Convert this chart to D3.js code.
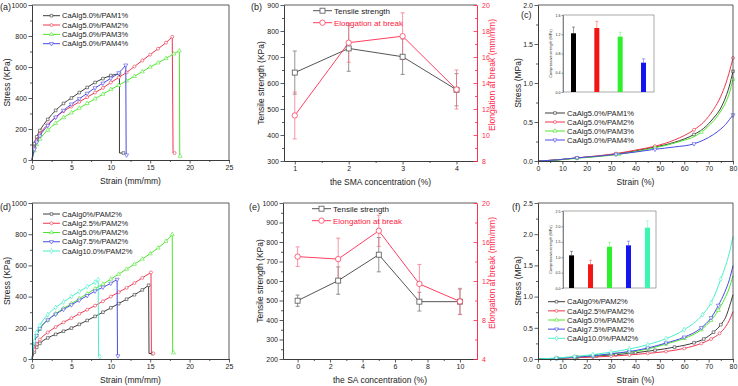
<!DOCTYPE html>
<html>
<head>
<meta charset="utf-8">
<script src="https://cdn.jsdelivr.net/npm/d3@7"></script>
<style>
  body { margin: 0; background: #fff; }
  svg text { font-family: "Liberation Sans", Arial, sans-serif; fill: #222; }
  .axis path, .axis line { stroke: #333; stroke-width: 0.8; }
  .axis text { font-size: 7px; fill: #222; }
  .inset .axis text { font-size: 3.6px; }
  .inset .axis path, .inset .axis line { stroke-width: 0.5; }
</style>
</head>
<body>
<div id="chart"></div>
<script>
// ---------- data ----------
// (a) stress-strain, CaAlg5.0% with PAM 1..4%
var namesA = ["CaAlg5.0%/PAM1%", "CaAlg5.0%/PAM2%", "CaAlg5.0%/PAM3%", "CaAlg5.0%/PAM4%"];
var aPAM1 = [[0,0],[0.3,105],[0.6,150],[1,190],[2,262],[3,320],[4,365],[5,400],[6,435],[7,468],[8,500],[9,525],[10,545],[11.1,556]];
var aPAM2 = [[0,0],[0.3,80],[0.6,125],[1,165],[2,230],[3,275],[4,315],[5,345],[6,375],[7,405],[8,435],[9,465],[10,500],[11,532],[12,565],[13,603],[14,642],[15,680],[16,718],[17,757],[17.8,795]];
var aPAM3 = [[0,0],[0.3,60],[0.6,100],[1,135],[2,192],[3,237],[4,274],[5,305],[6,335],[7,365],[8,395],[9,425],[10,455],[11,482],[12,511],[13,540],[14,570],[15,600],[16,627],[17,655],[18,685],[18.7,705]];
var aPAM4 = [[0,0],[0.3,70],[0.6,115],[1,155],[2,222],[3,276],[4,320],[5,360],[6,395],[7,430],[8,465],[9,495],[10,527],[11,562],[11.9,612]];
var aBreaks = [[[11.1,45],[11.6,45]], [[17.9,45],[18.1,45]], [[18.75,25],[18.8,25]], [[11.95,32],[12,32]]];

// (b) effect of SMA (PAM) concentration
var bConc = [1, 2, 3, 4];
var bTensile = [640, 733, 701, 574];
var bTensileErr = [83, 88, 68, 62];
var bElong = [11.5, 17.1, 17.6, 13.5];
var bElongErr = [1.8, 1.5, 1.8, 1.5];

// (c) compressive stress-strain, same samples as (a)
var cPAM1 = [[0,0],[8,0.015],[16,0.04],[24,0.06],[32,0.09],[40,0.13],[48,0.18],[56,0.24],[64,0.34],[68,0.42],[72,0.55],[75,0.68],[77,0.82],[78.5,0.96],[80,1.15]];
var cPAM2 = [[0,0],[8,0.015],[16,0.04],[24,0.065],[32,0.095],[40,0.14],[48,0.19],[56,0.27],[64,0.40],[68,0.5],[72,0.66],[75,0.83],[77,0.99],[78.5,1.14],[80,1.32]];
var cPAM3 = [[0,0],[8,0.012],[16,0.035],[24,0.055],[33,0.085],[40,0.12],[48,0.17],[56,0.23],[67,0.37],[70,0.45],[73,0.55],[75,0.64],[77,0.75],[78.5,0.87],[80,1.05]];
var cPAM4 = [[0,0],[8,0.015],[16,0.04],[24,0.06],[32,0.085],[40,0.115],[48,0.15],[56,0.18],[64,0.22],[68,0.27],[72,0.34],[75,0.41],[77,0.47],[78.5,0.53],[80,0.59]];
var cBar = [1.22, 1.33, 1.15, 0.61];
var cBarErr = [0.13, 0.14, 0.09, 0.08];

// (d) stress-strain, CaAlg 0..10% with PAM2%
var namesD = ["CaAlg0%/PAM2%", "CaAlg2.5%/PAM2%", "CaAlg5.0%/PAM2%", "CaAlg7.5%/PAM2%", "CaAlg10.0%/PAM2%"];
var d0 = [[0,0],[0.3,45],[0.6,75],[1,100],[2,135],[3,158],[4,178],[5,198],[6,222],[7,247],[8,273],[9,300],[10,328],[11,355],[12,383],[13,412],[14,443],[14.8,473]];
var d25 = [[0,0],[0.3,60],[0.6,95],[1,125],[2,170],[3,205],[4,235],[5,262],[6,290],[7,316],[8,342],[9,370],[10,400],[11,428],[12,456],[13,487],[14,520],[15.1,555]];
var d50 = [[0,0],[0.3,100],[0.6,150],[1,190],[2,250],[3,290],[4,325],[5,355],[6,387],[7,418],[8,450],[9,480],[10,512],[11,544],[12,576],[13,608],[14,641],[15,675],[16,712],[17,755],[17.8,798]];
var d75 = [[0,0],[0.3,100],[0.6,150],[1,195],[2,250],[3,287],[4,318],[5,347],[6,377],[7,406],[8,435],[9,460],[10,485],[10.8,510]];
var d100 = [[0,0],[0.3,115],[0.6,170],[1,215],[2,285],[3,330],[4,366],[5,400],[6,432],[7,463],[8,493],[8.4,508]];
var dBreaks = [[[14.85,35],[15.3,35]], [[15.15,35],[15.4,35]], [[17.85,40],[17.95,40]], [[10.85,20],[10.9,20]], [[8.45,15],[8.6,15]]];

// (e) effect of SA concentration
var eConc = [0, 2.5, 5, 7.5, 10];
var eTensile = [499, 602, 735, 494, 494];
var eTensileErr = [29, 70, 88, 48, 65];
var eElong = [14.5, 14.25, 17.15, 11.7, 9.9];
var eElongErr = [1.0, 2.15, 1.6, 2.0, 1.35];

// (f) compressive stress-strain, same samples as (d)
var f0 = [[0,0],[8,0.01],[16,0.03],[24,0.05],[32,0.07],[40,0.1],[48,0.14],[56,0.19],[64,0.26],[68,0.32],[72,0.43],[75,0.55],[77,0.67],[79,0.9],[80,1.03]];
var f25 = [[0,0],[7.5,0.008],[15,0.02],[22.5,0.03],[30,0.045],[37.5,0.065],[45,0.09],[52.5,0.12],[60,0.17],[67,0.25],[71,0.32],[74.5,0.41],[77,0.52],[78.5,0.62],[80,0.76]];
var f50 = [[0,0],[7.5,0.01],[15,0.03],[22.5,0.05],[30,0.08],[37.5,0.11],[45,0.16],[52.5,0.24],[60,0.33],[67,0.47],[71,0.62],[74,0.78],[76.5,0.96],[78.5,1.14],[80,1.335]];
var f75 = [[0,0],[7.5,0.01],[15,0.03],[22.5,0.05],[30,0.085],[37.5,0.12],[45,0.176],[52.5,0.256],[60,0.35],[67,0.5],[71,0.66],[74,0.86],[76.5,1.06],[78.5,1.27],[80,1.495]];
var f100 = [[0,0],[7.5,0.015],[15,0.04],[22.5,0.07],[30,0.11],[37.5,0.16],[45,0.23],[52.5,0.325],[60,0.47],[67.5,0.71],[71,0.9],[75,1.28],[77,1.5],[78.5,1.7],[80,1.96]];
var fBar = [1.06, 0.77, 1.34, 1.385, 1.96];
var fBarErr = [0.13, 0.13, 0.14, 0.135, 0.22];

// ---------- styles ----------
var lineColors = ["#3c3c3c", "#f0364f", "#4ee62b", "#4a4ae6", "#46f0c9"];
var barColors = ["#000000", "#f51414", "#2cf02c", "#1414f0", "#3cf5b0"];
var shapes = [d3.symbolSquare, d3.symbolCircle, d3.symbolTriangle, d3.symbolTriangle, d3.symbolDiamond];
var shapeRot = [0, 0, 0, 180, 0];
var redAxis = "#ff2a4a";

var svg = d3.select("#chart").append("svg")
  .attr("width", 738).attr("height", 386)
  .style("background", "#fff");

function drawAxes(g, x, y, o) {
  var xr = x.range(), yr = y.range();
  var bottom = yr[0], top = yr[1], left = xr[0], right = xr[1];
  g.append("g").attr("class", "axis").attr("transform", "translate(0," + bottom + ")")
    .call(d3.axisBottom(x).tickValues(o.xMinor).tickSize(2).tickSizeOuter(0).tickFormat(""));
  g.append("g").attr("class", "axis").attr("transform", "translate(0," + bottom + ")")
    .call(d3.axisBottom(x).tickValues(o.xTicks).tickSize(3.5).tickSizeOuter(0).tickPadding(2).tickFormat(o.xFmt || d3.format("")));
  g.append("g").attr("class", "axis").attr("transform", "translate(" + left + ",0)")
    .call(d3.axisLeft(y).tickValues(o.yMinor).tickSize(2).tickSizeOuter(0).tickFormat(""));
  g.append("g").attr("class", "axis").attr("transform", "translate(" + left + ",0)")
    .call(d3.axisLeft(y).tickValues(o.yTicks).tickSize(3.5).tickSizeOuter(0).tickPadding(1.5).tickFormat(o.yFmt || d3.format("")));
  g.append("path")
    .attr("d", "M" + left + "," + top + "H" + right + (o.noRight ? "" : "V" + bottom))
    .attr("fill", "none").attr("stroke", "#333").attr("stroke-width", 0.8);
  if (o.xTitle) {
    g.append("text").attr("x", (left + right) / 2).attr("y", bottom + 24)
      .attr("text-anchor", "middle").style("font-size", "8.5px").text(o.xTitle);
  }
  if (o.yTitle) {
    g.append("text").attr("transform", "translate(" + (left - o.yTitleOff) + "," + (top + bottom) / 2 + ") rotate(-90)")
      .attr("text-anchor", "middle").attr("dy", "0.35em").style("font-size", "8.5px").text(o.yTitle);
  }
}

function symbolPath(i, size) {
  return d3.symbol().type(shapes[i]).size(size)();
}

function drawMarkers(g, pts, x, y, i, size) {
  g.selectAll(null).data(pts).enter().append("path")
    .attr("d", symbolPath(i, size))
    .attr("transform", function(d) { return "translate(" + x(d[0]) + "," + y(d[1]) + ") rotate(" + shapeRot[i] + ")"; })
    .attr("fill", "#fff").attr("stroke", lineColors[i]).attr("stroke-width", 0.6);
}

function drawCurves(g, x, y, series, breaks, markFilter, msize) {
  var smooth = d3.line().x(function(d) { return x(d[0]); }).y(function(d) { return y(d[1]); }).curve(d3.curveMonotoneX);
  var straight = d3.line().x(function(d) { return x(d[0]); }).y(function(d) { return y(d[1]); });
  series.forEach(function(s, i) {
    g.append("path").datum(s).attr("d", smooth)
      .attr("fill", "none").attr("stroke", lineColors[i]).attr("stroke-width", 1);
    var pts = s.filter(markFilter);
    if (breaks) {
      g.append("path").datum([s[s.length - 1]].concat(breaks[i])).attr("d", straight)
        .attr("fill", "none").attr("stroke", lineColors[i]).attr("stroke-width", 1);
      pts = pts.concat([breaks[i][breaks[i].length - 1]]);
    }
    drawMarkers(g, pts, x, y, i, msize);
  });
}

function drawLegend(g, names, x0, y0, step, len, fs, msize) {
  names.forEach(function(n, i) {
    var yy = y0 + i * step;
    g.append("line").attr("x1", x0).attr("x2", x0 + len).attr("y1", yy).attr("y2", yy)
      .attr("stroke", lineColors[i]).attr("stroke-width", 1);
    g.append("path").attr("d", symbolPath(i, msize))
      .attr("transform", "translate(" + (x0 + len / 2) + "," + yy + ") rotate(" + shapeRot[i] + ")")
      .attr("fill", "#fff").attr("stroke", lineColors[i]).attr("stroke-width", 0.6);
    g.append("text").attr("x", x0 + len + 2).attr("y", yy).attr("dy", "0.35em")
      .style("font-size", fs + "px").text(n);
  });
}

function panelLabel(t, x, y) {
  svg.append("text").attr("x", x).attr("y", y).style("font-size", "9px").text(t);
}

// ---------- (a) ----------
(function() {
  var g = svg.append("g");
  var x = d3.scaleLinear().domain([0, 25]).range([32, 229]);
  var y = d3.scaleLinear().domain([0, 1000]).range([160, 5]);
  drawCurves(g, x, y, [aPAM1, aPAM2, aPAM3, aPAM4], aBreaks, function(d) { return d[0] > 0; }, 7);
  drawAxes(g, x, y, {
    xTicks: d3.range(0, 26, 5), xMinor: d3.range(2.5, 25, 5),
    yTicks: d3.range(0, 1001, 200), yMinor: d3.range(100, 1000, 200),
    xTitle: "Strain (mm/mm)", yTitle: "Stress (KPa)", yTitleOff: 25
  });
  drawLegend(g, namesA, 43, 15.7, 9.33, 17, 7.5, 7);
  panelLabel("(a)", 0, 10);
})();

// ---------- (d) ----------
(function() {
  var g = svg.append("g");
  var x = d3.scaleLinear().domain([0, 25]).range([32, 229]);
  var y = d3.scaleLinear().domain([0, 1000]).range([359, 203]);
  drawCurves(g, x, y, [d0, d25, d50, d75, d100], dBreaks, function(d) { return d[0] > 0; }, 7);
  drawAxes(g, x, y, {
    xTicks: d3.range(0, 26, 5), xMinor: d3.range(2.5, 25, 5),
    yTicks: d3.range(0, 1001, 200), yMinor: d3.range(100, 1000, 200),
    xTitle: "Strain (mm/mm)", yTitle: "Stress (KPa)", yTitleOff: 25
  });
  drawLegend(g, namesD, 43, 214, 9.25, 17, 7.5, 7);
  panelLabel("(d)", 0, 210);
})();

// ---------- (b) / (e) dual axis ----------
function dualPanel(o) {
  var g = svg.append("g");
  var x = d3.scaleLinear().domain(o.xDom).range([o.left, o.right]);
  var yL = d3.scaleLinear().domain(o.yLDom).range([o.bottom, o.top]);
  var yR = d3.scaleLinear().domain(o.yRDom).range([o.bottom, o.top]);
  var lineL = d3.line().x(function(d, i) { return x(o.conc[i]); }).y(function(d) { return yL(d); });
  var lineR = d3.line().x(function(d, i) { return x(o.conc[i]); }).y(function(d) { return yR(d); });

  drawAxes(g, x, yL, {
    xTicks: o.xTicks, xMinor: o.xMinor, yTicks: o.yLTicks, yMinor: o.yLMinor,
    xTitle: o.xTitle, yTitle: "Tensile strength (KPa)", yTitleOff: 23, noRight: true
  });
  // right red axis
  var ra = g.append("g").attr("class", "axis").attr("transform", "translate(" + o.right + ",0)");
  ra.call(d3.axisRight(yR).tickValues(o.yRMinor).tickSize(-2).tickSizeOuter(0).tickFormat(""));
  var rb = g.append("g").attr("class", "axis").attr("transform", "translate(" + o.right + ",0)");
  rb.call(d3.axisRight(yR).tickValues(o.yRTicks).tickSize(-3.5).tickSizeOuter(0).tickPadding(5).tickFormat(d3.format("")));
  ra.selectAll("path, line").style("stroke", redAxis);
  rb.selectAll("path, line").style("stroke", redAxis);
  rb.selectAll("text").style("fill", redAxis);
  g.append("text")
    .attr("transform", "translate(" + (o.right + 15) + "," + ((o.top + o.bottom) / 2 - 8) + ") rotate(-90)")
    .attr("text-anchor", "middle").attr("dy", "0.35em")
    .style("font-size", "8.5px").style("fill", redAxis).text("Elongation at break (mm/mm)");

  // error bars
  function errBars(vals, errs, sc, color) {
    vals.forEach(function(v, i) {
      var cx = x(o.conc[i]);
      g.append("path")
        .attr("d", "M" + cx + "," + sc(v - errs[i]) + "V" + sc(v + errs[i]) +
          "M" + (cx - 2) + "," + sc(v - errs[i]) + "H" + (cx + 2) +
          "M" + (cx - 2) + "," + sc(v + errs[i]) + "H" + (cx + 2))
        .attr("stroke", color).attr("stroke-width", 0.8).attr("fill", "none");
    });
  }
  errBars(o.tens, o.tensErr, yL, "#777");
  errBars(o.elong, o.elongErr, yR, "#f57a8e");

  g.append("path").datum(o.tens).attr("d", lineL).attr("fill", "none").attr("stroke", "#555").attr("stroke-width", 1);
  g.append("path").datum(o.elong).attr("d", lineR).attr("fill", "none").attr("stroke", "#ff4060").attr("stroke-width", 1);
  g.selectAll(null).data(o.tens).enter().append("rect")
    .attr("x", function(d, i) { return x(o.conc[i]) - 2.5; })
    .attr("y", function(d) { return yL(d) - 2.5; })
    .attr("width", 5).attr("height", 5)
    .attr("fill", "#fff").attr("stroke", "#555").attr("stroke-width", 0.8);
  g.selectAll(null).data(o.elong).enter().append("circle")
    .attr("cx", function(d, i) { return x(o.conc[i]); })
    .attr("cy", function(d) { return yR(d); })
    .attr("r", 2.7)
    .attr("fill", "#fff").attr("stroke", "#ff4060").attr("stroke-width", 0.8);

  // legend
  var ly = o.top + 5.7;
  [["Tensile strength", "#555", "rect"], ["Elongation at break", "#ff4060", "circle"]].forEach(function(e, i) {
    var yy = ly + i * 12;
    g.append("line").attr("x1", o.left + 29).attr("x2", o.left + 48).attr("y1", yy).attr("y2", yy)
      .attr("stroke", e[1]).attr("stroke-width", 1);
    if (e[2] === "rect") {
      g.append("rect").attr("x", o.left + 36).attr("y", yy - 2.5).attr("width", 5).attr("height", 5)
        .attr("fill", "#fff").attr("stroke", e[1]).attr("stroke-width", 0.8);
    } else {
      g.append("circle").attr("cx", o.left + 38.5).attr("cy", yy).attr("r", 2.7)
        .attr("fill", "#fff").attr("stroke", e[1]).attr("stroke-width", 0.8);
    }
    g.append("text").attr("x", o.left + 50).attr("y", yy).attr("dy", "0.35em")
      .style("font-size", "8px").style("fill", i ? "#ff2040" : "#222").text(e[0]);
  });
}

dualPanel({
  left: 284, right: 477, top: 5, bottom: 161,
  xDom: [0.8, 4.38], xTicks: bConc, xMinor: [1.5, 2.5, 3.5],
  yLDom: [300, 900], yLTicks: d3.range(300, 901, 100), yLMinor: d3.range(350, 900, 100),
  yRDom: [8, 20], yRTicks: d3.range(8, 21, 2), yRMinor: d3.range(9, 20, 2),
  conc: bConc, tens: bTensile, tensErr: bTensileErr, elong: bElong, elongErr: bElongErr,
  xTitle: "the SMA concentration (%)"
});
panelLabel("(b)", 251, 10);

dualPanel({
  left: 283, right: 477, top: 203, bottom: 359,
  xDom: [-0.9, 11.05], xTicks: d3.range(0, 11, 2), xMinor: d3.range(1, 11, 2),
  yLDom: [200, 1000], yLTicks: d3.range(200, 1001, 100), yLMinor: d3.range(250, 1000, 100),
  yRDom: [4, 20], yRTicks: d3.range(4, 21, 4), yRMinor: d3.range(6, 20, 4),
  conc: eConc, tens: eTensile, tensErr: eTensileErr, elong: eElong, elongErr: eElongErr,
  xTitle: "the SA concentration (%)"
});
panelLabel("(e)", 249, 210);

// ---------- (c) / (f) compression with inset ----------
function compPanel(o) {
  var g = svg.append("g");
  var x = d3.scaleLinear().domain([0, 80]).range([538, 733]);
  var y = d3.scaleLinear().domain([0, o.yMax]).range([o.bottom, o.top]);
  drawCurves(g, x, y, o.series, null, o.markFilter, 7);
  drawAxes(g, x, y, {
    xTicks: d3.range(0, 81, 10), xMinor: d3.range(5, 80, 10),
    yTicks: d3.range(0, o.yMax + 0.01, 0.5), yMinor: d3.range(0.25, o.yMax, 0.5),
    yFmt: d3.format(".1f"),
    xTitle: "Strain (%)", yTitle: "Stress (MPa)", yTitleOff: 20
  });
  drawLegend(g, o.names, o.legX, o.legY, o.legStep, o.legLen, 7.6, 7);

  // inset bars
  var ig = svg.append("g").attr("class", "inset");
  var bx = d3.scalePoint().domain(d3.range(o.bars.length)).range([563, o.insetRight]).padding(0.45);
  var by = d3.scaleLinear().domain([0, o.insetMax]).range([o.insetBottom, o.insetTop]);
  ig.append("rect").attr("x", 563).attr("y", o.insetTop).attr("width", o.insetRight - 563)
    .attr("height", o.insetBottom - o.insetTop).attr("fill", "#fff").attr("stroke", "#555").attr("stroke-width", 0.5);
  ig.selectAll(null).data(o.bars).enter().append("path")
    .attr("d", function(d, i) {
      var cx = bx(i), t = by(d + o.barErr[i]);
      return "M" + cx + "," + by(d) + "V" + t + "M" + (cx - 1.5) + "," + t + "H" + (cx + 1.5);
    })
    .attr("stroke", function(d, i) { return barColors[i]; }).attr("stroke-opacity", 0.55).attr("stroke-width", 0.7);
  ig.selectAll(null).data(o.bars).enter().append("rect")
    .attr("x", function(d, i) { return bx(i) - 2.5; })
    .attr("y", function(d) { return by(d); })
    .attr("width", 5)
    .attr("height", function(d) { return o.insetBottom - by(d); })
    .attr("fill", function(d, i) { return barColors[i]; });
  ig.append("g").attr("class", "axis").attr("transform", "translate(563,0)")
    .call(d3.axisLeft(by).tickValues(o.insetTicks).tickSize(1.5).tickSizeOuter(0).tickPadding(1).tickFormat(d3.format(".1f")));
  ig.append("text")
    .attr("transform", "translate(" + 551 + "," + (o.insetTop + o.insetBottom) / 2 + ") rotate(-90)")
    .attr("text-anchor", "middle").attr("dy", "0.35em").style("font-size", "3.8px")
    .text("Compressive strength (MPa)");
}

var markC = [16, 32, 33, 48, 64, 67, 80];
compPanel({
  top: 5, bottom: 161, yMax: 2.0,
  series: [cPAM1, cPAM2, cPAM3, cPAM4], names: namesA,
  markFilter: function(d) { return markC.indexOf(d[0]) >= 0; },
  legX: 545, legY: 113, legStep: 9, legLen: 20,
  bars: cBar, barErr: cBarErr, insetRight: 654, insetTop: 15, insetBottom: 92,
  insetMax: 1.6, insetTicks: [0, 0.4, 0.8, 1.2, 1.6]
});
panelLabel("(c)", 521, 18);

compPanel({
  top: 203, bottom: 359, yMax: 2.5,
  series: [f0, f25, f50, f75, f100], names: namesD,
  markFilter: function(d) { return d[0] > 0 && d[0] <= 75; },
  legX: 548, legY: 301.7, legStep: 9.15, legLen: 17,
  bars: fBar, barErr: fBarErr, insetRight: 656, insetTop: 211, insetBottom: 288,
  insetMax: 2.5, insetTicks: [0, 0.5, 1.0, 1.5, 2.0, 2.5]
});
panelLabel("(f)", 512, 210);
</script>
</body>
</html>
